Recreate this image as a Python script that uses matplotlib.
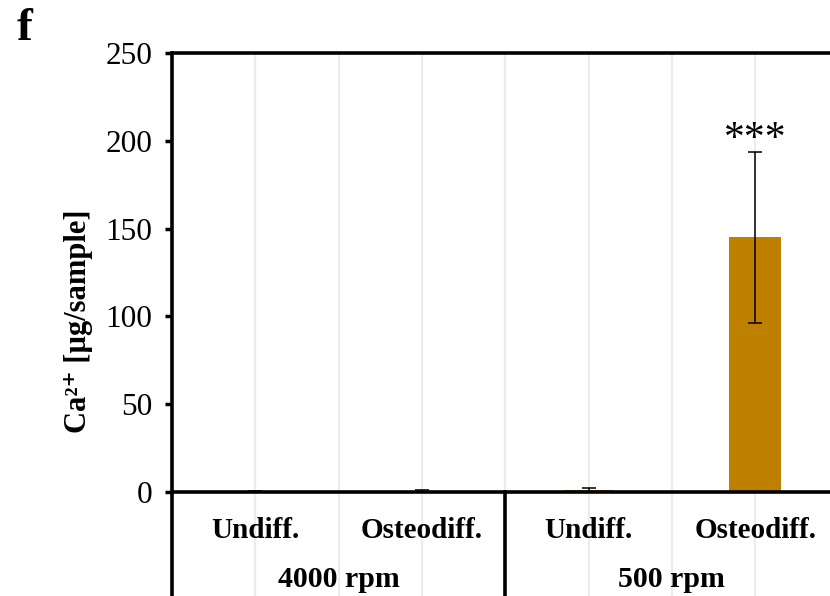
import matplotlib
matplotlib.use("Agg")
from matplotlib import pyplot as plt

plt.rcParams['font.family'] = ['Liberation Serif', 'DejaVu Serif']

# data
categories = ['Undiff.', 'Osteodiff.', 'Undiff.', 'Osteodiff.']
groups = ['4000 rpm', '500 rpm']
ca_values = [0.2, 0.8, 1.2, 145.0]
ca_errors = [0.1, 0.6, 1.2, 48.5]
y_ticks = [0, 50, 100, 150, 200, 250]

bar_color = '#BF8000'
grid_color = '#ececec'

fig = plt.figure(figsize=(8.3, 5.96), dpi=100)
ax = fig.add_axes([172 / 830, 1 - 492 / 596, (838.5 - 172) / 830, (492 - 53) / 596])

x = list(range(len(categories)))
ax.bar(x, ca_values, width=0.31, color=bar_color, zorder=2)
ax.errorbar(x, ca_values, yerr=ca_errors, fmt='none', ecolor='black',
            elinewidth=1.1, capsize=4.7, capthick=1.1, zorder=3)

ax.set_xlim(-0.5, 3.5)
ax.set_ylim(0, 250)
ax.set_yticks(y_ticks)
ax.set_xticks([])
ax.tick_params(axis='y', direction='out', length=5, width=2.5, pad=9, labelsize=22.5)

for s in ['left', 'top', 'bottom', 'right']:
    ax.spines[s].set_linewidth(2.6)

trans = ax.get_xaxis_transform()
# light vertical grid lines, also running through the label area
for gx in [0, 0.5, 1, 1.5, 2, 2.5, 3]:
    ax.plot([gx, gx], [-0.24, 1], transform=trans, color=grid_color, lw=1.6,
            zorder=0, clip_on=False)

# extended left spine and group divider below the axis
ax.plot([-0.5, -0.5], [-0.24, 0], transform=trans, color='black', lw=2.6, clip_on=False)
ax.plot([1.5, 1.5], [-0.24, 0], transform=trans, color='black', lw=2.6, clip_on=False)

for xi, lab in zip(x, categories):
    ax.text(xi, -0.087, lab, transform=trans, ha='center', va='center',
            fontsize=21, fontweight='bold')
for gi, g in enumerate(groups):
    ax.text(0.5 + 2 * gi, -0.2, g, transform=trans, ha='center', va='center',
            fontsize=21.5, fontweight='bold')

ax.text(3, 195, '***', ha='center', va='baseline', fontsize=30)

ax.text(-0.141, 0.39, 'Ca²⁺ [µg/sample]', transform=ax.transAxes, rotation=90,
        ha='center', va='center', fontsize=22, fontweight='bold')

fig.text(24 / 830, 1 - 29 / 596, 'f', fontsize=34, fontweight='bold', ha='center', va='center')

fig.savefig('out.png', dpi=100)
